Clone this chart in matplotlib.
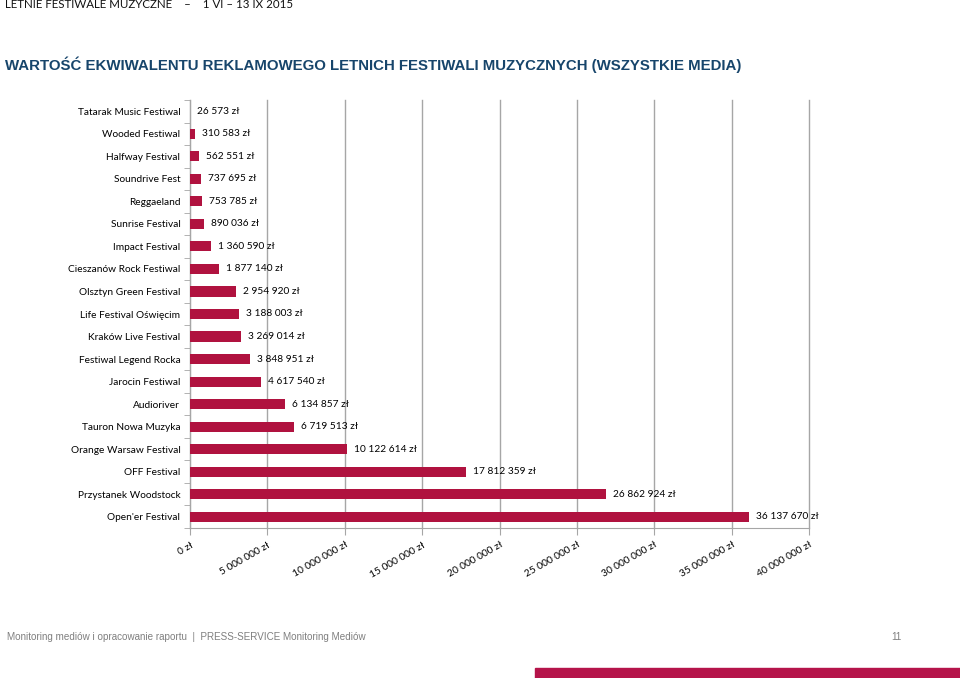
import matplotlib
matplotlib.use('Agg')
import matplotlib.pyplot as plt
import numpy as np
from matplotlib.ticker import FixedLocator, FuncFormatter

festivals = ["Tatarak Music Festiwal", "Wooded Festiwal", "Halfway Festival",
             "Soundrive Fest", "Reggaeland", "Sunrise Festival", "Impact Festival",
             "Cieszanów Rock Festiwal", "Olsztyn Green Festival",
             "Life Festival Oświęcim", "Kraków Live Festival",
             "Festiwal Legend Rocka", "Jarocin Festiwal", "Audioriver",
             "Tauron Nowa Muzyka", "Orange Warsaw Festival", "OFF Festival",
             "Przystanek Woodstock", "Open'er Festival"]
values = [26573, 310583, 562551, 737695, 753785, 890036, 1360590, 1877140,
          2954920, 3188003, 3269014, 3848951, 4617540, 6134857, 6719513,
          10122614, 17812359, 26862924, 36137670]
x_ticks = [0, 5e6, 10e6, 15e6, 20e6, 25e6, 30e6, 35e6, 40e6]

bar_color = '#B0123F'
grid_color = '#A6A6A6'
font = 'Lato'
fs = 7.3


def zl(v):
    return '{:,} zł'.format(int(v)).replace(',', ' ')


fig = plt.figure(figsize=(9.6, 6.78), dpi=100)
ax = fig.add_axes([190/960, 1 - 528/678, (809 - 190)/960, 428/678])

y = np.arange(len(festivals))
ax.barh(y, values, height=0.45, color=bar_color, zorder=3)

for yi, v in zip(y, values):
    ax.annotate(zl(v), (v, yi), xytext=(5, 0), textcoords='offset points',
                ha='left', va='center', fontsize=fs, family=font, color='black')

ax.set_ylim(len(festivals) - 0.5, -0.5)
ax.set_xlim(0, 40e6)

ax.set_yticks(y)
ax.set_yticklabels(festivals, family=font, fontsize=fs)
ax.yaxis.set_minor_locator(FixedLocator(np.arange(-0.5, len(festivals), 1)))
ax.tick_params(axis='y', which='major', length=0, pad=7)
ax.tick_params(axis='y', which='minor', length=4, color=grid_color)

ax.set_xticks(x_ticks)
ax.xaxis.set_major_formatter(FuncFormatter(lambda v, p: zl(v)))
for lab in ax.get_xticklabels():
    lab.set_rotation(30)
    lab.set_ha('right')
    lab.set_rotation_mode('anchor')
    lab.set_family(font)
    lab.set_fontsize(fs)
ax.tick_params(axis='x', length=5, color=grid_color, pad=4)

ax.grid(axis='x', color=grid_color, lw=1)
for gl in ax.get_xgridlines():
    gl.set_clip_on(False)
ax.set_axisbelow(True)
for s in ['top', 'right']:
    ax.spines[s].set_visible(False)
for s in ['left', 'bottom']:
    ax.spines[s].set_color(grid_color)

# header, title, footer
fig.text(5/960, 1 - 5/678, 'LETNIE FESTIWALE MUZYCZNE    –    1 VI – 13 IX 2015',
         family=font, fontsize=8.3, va='center', ha='left', color='#111111')
fig.text(5/960, 1 - 65/678,
         'WARTOŚĆ EKWIWALENTU REKLAMOWEGO LETNICH FESTIWALI MUZYCZNYCH (WSZYSTKIE MEDIA)',
         family='Liberation Sans', fontweight='bold', fontsize=10.8,
         color='#17456B', va='center', ha='left')
fig.text(7/960, 1 - 637/678,
         'Monitoring mediów i opracowanie raportu  |  PRESS-SERVICE Monitoring Mediów',
         family='Liberation Sans', fontsize=7.1, color='#7F7F7F', va='center')
fig.text(896/960, 1 - 637/678, '11', family='Liberation Sans', fontsize=7.1,
         color='#7F7F7F', va='center', ha='center')
fig.patches.append(plt.Rectangle((535/960, 0), 1 - 535/960, 10/678,
                                 transform=fig.transFigure, color='#B5144A'))

fig.savefig('out.png', dpi=100)
